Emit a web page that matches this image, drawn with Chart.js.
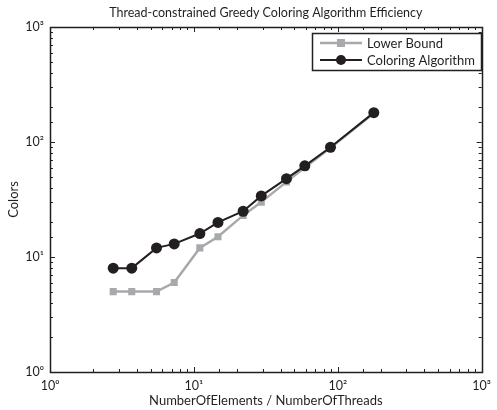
<!DOCTYPE html>
<html>
<head>
<meta charset="utf-8">
<script src="https://cdn.jsdelivr.net/npm/chart.js@4.4.1/dist/chart.umd.min.js"></script>
<style>
  html, body { margin: 0; padding: 0; background: #fff; }
  #wrap { width: 497px; height: 410px; }
</style>
</head>
<body>
<div id="wrap"><canvas id="myChart" width="497" height="410"></canvas></div>
<script>
'use strict';

// data (log-log axes)
let ratios = [2.75, 3.7, 5.5, 7.3, 11, 14.7, 22, 29.4, 44, 59, 89, 178];
let lowerBound = [5, 5, 5, 6, 12, 15, 23, 30, 45, 60, 89, 178];
let coloringAlg = [8, 8, 12, 13, 16, 20, 25, 34, 48, 62, 90, 180];
let decadeTicks = [1, 10, 100, 1000];
let supers = { 1: '10\u2070', 10: '10\u00b9', 100: '10\u00b2', 1000: '10\u00b3' };

let titleText = 'Thread-constrained Greedy Coloring Algorithm Efficiency';
let fontName = 'Lato, "Liberation Sans", sans-serif';
let black = '#231f20';
let gray = '#a7a9ac';

function toPoints(xs, ys) {
  let pts = [];
  for (let i = 0; i < xs.length; i++) {
    pts.push({ x: xs[i], y: ys[i] });
  }
  return pts;
}

function isDecade(v) {
  return decadeTicks.indexOf(v) !== -1;
}

// box, inward ticks, title and legend
const frame = {
  id: 'frame',
  afterDraw(chart) {
    let ctx = chart.ctx;
    let a = chart.chartArea;
    let xs = chart.scales.x;
    let ys = chart.scales.y;
    ctx.save();
    ctx.strokeStyle = black;
    ctx.lineWidth = 1;

    xs.ticks.forEach(function (t) {
      let px = Math.round(xs.getPixelForValue(t.value)) + 0.5;
      let len = isDecade(t.value) ? 5 : 3;
      ctx.beginPath();
      ctx.moveTo(px, a.bottom); ctx.lineTo(px, a.bottom - len);
      ctx.moveTo(px, a.top); ctx.lineTo(px, a.top + len);
      ctx.stroke();
    });
    ys.ticks.forEach(function (t) {
      let py = Math.round(ys.getPixelForValue(t.value)) + 0.5;
      let len = isDecade(t.value) ? 5 : 3;
      ctx.beginPath();
      ctx.moveTo(a.left, py); ctx.lineTo(a.left + len, py);
      ctx.moveTo(a.right, py); ctx.lineTo(a.right - len, py);
      ctx.stroke();
    });

    ctx.lineWidth = 1.5;
    ctx.strokeRect(Math.round(a.left) + 0.5, Math.round(a.top) + 0.5,
      Math.round(a.right - a.left), Math.round(a.bottom - a.top));

    // title
    ctx.fillStyle = black;
    ctx.font = '12.5px ' + fontName;
    ctx.textAlign = 'center';
    ctx.textBaseline = 'middle';
    ctx.fillText(titleText, (a.left + a.right) / 2, 13);

    // legend
    let lx = 312, ly = 33, lw = 169, lh = 37;
    ctx.fillStyle = '#fff';
    ctx.fillRect(lx, ly, lw, lh);
    ctx.lineWidth = 1.5;
    ctx.strokeStyle = black;
    ctx.strokeRect(lx + 0.5, ly + 0.5, lw, lh);
    chart.data.datasets.forEach(function (ds, i) {
      let yy = ly + 10 + i * 17;
      ctx.strokeStyle = ds.borderColor;
      ctx.lineWidth = ds.borderWidth;
      ctx.beginPath();
      ctx.moveTo(lx + 8, yy); ctx.lineTo(lx + 50, yy);
      ctx.stroke();
      ctx.fillStyle = ds.pointBackgroundColor;
      if (ds.pointStyle === 'rect') {
        ctx.fillRect(lx + 29 - 4, yy - 4, 8, 8);
      } else {
        ctx.beginPath();
        ctx.arc(lx + 29, yy, 5, 0, Math.PI * 2);
        ctx.fill();
      }
      ctx.fillStyle = black;
      ctx.font = '13px ' + fontName;
      ctx.textAlign = 'left';
      ctx.fillText(ds.label, lx + 55, yy + 1);
    });
    ctx.restore();
  }
};

let ctx = document.getElementById('myChart').getContext('2d');
let myChart = new Chart(ctx, {
  type: 'line',
  data: {
    datasets: [
      {
        label: 'Lower Bound',
        data: toPoints(ratios, lowerBound),
        borderColor: gray,
        backgroundColor: gray,
        pointBackgroundColor: gray,
        pointBorderColor: gray,
        borderWidth: 2.5,
        pointStyle: 'rect',
        pointRadius: 5,
        pointBorderWidth: 0,
        order: 2
      },
      {
        label: 'Coloring Algorithm',
        data: toPoints(ratios, coloringAlg),
        borderColor: black,
        backgroundColor: black,
        pointBackgroundColor: black,
        pointBorderColor: black,
        borderWidth: 2,
        pointStyle: 'circle',
        pointRadius: 5.5,
        pointBorderWidth: 0,
        order: 1
      }
    ]
  },
  options: {
    responsive: false,
    animation: false,
    layout: { padding: { top: 27, right: 10, left: 6, bottom: 0 } },
    plugins: {
      legend: { display: false },
      title: { display: false },
      tooltip: { enabled: false }
    },
    scales: {
      x: {
        type: 'logarithmic',
        min: 1,
        max: 1000,
        grid: { display: false, drawTicks: false },
        border: { display: false },
        afterFit(scale) { scale.height = 38; },
        ticks: {
          autoSkip: false,
          maxRotation: 0,
          padding: 6,
          color: black,
          font: { family: fontName, size: 12.5 },
          callback: function (v) { return supers[v] || ''; }
        },
        title: {
          display: true,
          text: 'NumberOfElements / NumberOfThreads',
          color: black,
          font: { family: fontName, size: 13 },
          padding: { top: 0, bottom: 1 }
        }
      },
      y: {
        type: 'logarithmic',
        min: 1,
        max: 1000,
        grid: { display: false, drawTicks: false },
        border: { display: false },
        afterFit(scale) { scale.width = 44; },
        ticks: {
          autoSkip: false,
          padding: 6,
          color: black,
          font: { family: fontName, size: 12.5 },
          callback: function (v) { return supers[v] || ''; }
        },
        title: {
          display: true,
          text: 'Colors',
          color: black,
          font: { family: fontName, size: 13 },
          padding: { top: 0, bottom: 0 }
        }
      }
    }
  },
  plugins: [frame]
});
</script>
</body>
</html>
